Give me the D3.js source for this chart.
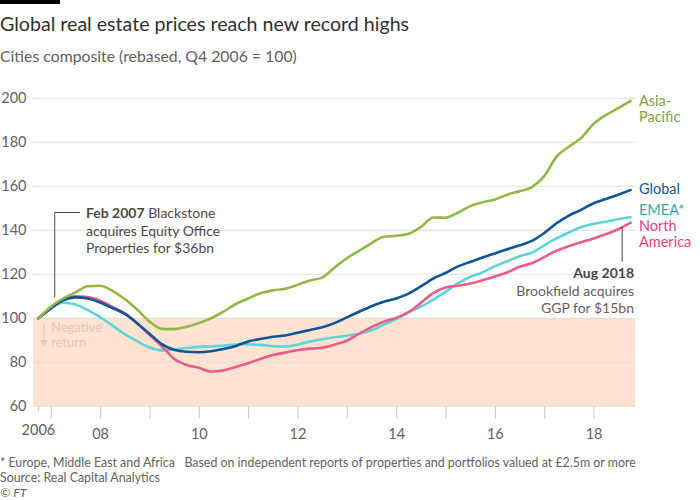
<!DOCTYPE html>
<html>
<head>
<meta charset="utf-8">
<script src="https://cdn.jsdelivr.net/npm/d3@7"></script>
<style>
  html, body { margin: 0; padding: 0; background: #ffffff; }
  svg { display: block; font-family: Lato, "Open Sans", sans-serif; }
</style>
</head>
<body>
<svg id="chart" width="700" height="500"></svg>
<script>
// ---------------- DATA ----------------
const quarters = [2006.75,2007.0,2007.25,2007.5,2007.75,2008.0,2008.25,2008.5,2008.75,2009.0,2009.25,2009.5,2009.75,
  2010.0,2010.25,2010.5,2010.75,2011.0,2011.25,2011.5,2011.75,2012.0,2012.25,2012.5,2012.75,
  2013.0,2013.25,2013.5,2013.75,2014.0,2014.25,2014.5,2014.75,2015.0,2015.25,2015.5,2015.75,
  2016.0,2016.25,2016.5,2016.75,2017.0,2017.25,2017.5,2017.75,2018.0,2018.25,2018.5,2018.75];

const asiaPacific = [100,105.3,109,111.8,114.6,114.8,112.5,108.8,104,98.5,95.2,95.1,96.1,
  97.8,100,103,106.5,109,111.4,112.7,113.4,115.2,117.2,118.5,123,
  127.3,130.7,134.2,137.1,137.5,138.4,141.5,145.8,145.7,148,151,152.8,
  154,156.2,157.8,159.6,164.6,173.5,178,182,188.3,192.4,195.5,198.8];

const global = [100,104.5,108.2,109.5,109,107.2,104.7,102,97.8,93,88.3,85.7,84.8,
  84.6,85,86,87.4,89.5,90.6,91.6,92.2,93.4,94.7,95.9,97.8,
  100.4,103,105.5,107.5,109,111.2,114.5,118,120.6,123.6,125.6,127.6,
  129.5,131.4,133.2,135.2,138.8,143.2,146.7,149.3,152.3,154.2,156.2,158.3];

const emea = [100,104.8,107.1,106.3,103.7,100.5,96.7,92.8,89.6,86.8,85.4,85.8,86.5,
  87,87.2,87.6,88.1,88.2,87.9,87.3,87.1,88,89.4,90.5,91.4,
  92.1,93,94.6,97.2,99.6,102.7,105.3,108.5,112,115.9,118.8,120.9,
  123.7,125.9,128.2,129.8,133.2,136.3,139,141.5,143,143.9,145,145.9];

const northAmerica = [100,104.5,108.4,110,109.7,108,105.2,102.2,97.8,92.5,87.3,81.6,78.8,
  77.5,75.8,76.3,77.9,79.6,81.5,83.3,84.4,85.5,86.2,86.6,88,
  89.8,93,96,98.5,100.2,102.8,107,111.4,114,114.8,115.8,117.3,
  119,120.8,123.4,125,127.8,130.7,132.8,134.6,136.3,138.2,140.5,143.5];

const seriesNames = ["EMEA", "North America", "Global", "Asia-Pacific"];
const seriesLabels = [["EMEA*"], ["North", "America"], ["Global"], ["Asia-", "Pacific"]];
const yTicks = [60, 80, 100, 120, 140, 160, 180, 200];
const xTickYears = [2007,2008,2009,2010,2011,2012,2013,2014,2015,2016,2017,2018];
const xTickLabels = {2008: "08", 2010: "10", 2012: "12", 2014: "14", 2016: "16", 2018: "18"};
const startLabel = "2006";

const title = "Global real estate prices reach new record highs";
const subtitle = "Cities composite (rebased, Q4 2006 = 100)";
const footnotes = ["* Europe, Middle East and Africa   Based on independent reports of properties and portfolios valued at £2.5m or more",
                   "Source: Real Capital Analytics"];
const annot1 = {date: 2007.08, bold: "Feb 2007", lines: [" Blackstone", "acquires Equity Office", "Properties for $36bn"]};
const annot2 = {date: 2018.58, lines: ["Aug 2018", "Brookfield acquires", "GGP for $15bn"]};

// ---------------- STYLE ----------------
const colors = {"Asia-Pacific": "#93b847", "Global": "#0f5499", "EMEA": "#5fd3dc", "North America": "#e95d8c"};
const labelColors = {"Asia-Pacific": "#7fa33a", "Global": "#0f5499", "EMEA": "#3aa6a8", "North America": "#e5457e"};
const values = {"Asia-Pacific": asiaPacific, "Global": global, "EMEA": emea, "North America": northAmerica};

const svg = d3.select("#chart");
const x = d3.scaleLinear().domain([2006.64, 2018.84]).range([33, 635]);
const y = d3.scaleLinear().domain([60, 200]).range([406.3, 98.3]);

// top bar
svg.append("rect").attr("x", 0).attr("y", 0).attr("width", 60).attr("height", 4).attr("fill", "#000");

svg.append("text").attr("x", 0).attr("y", 31).attr("font-size", 19.6).attr("fill", "#33302e").text(title);
svg.append("text").attr("x", 0).attr("y", 62).attr("font-size", 15.8).attr("fill", "#66605c").text(subtitle);

// negative area
svg.append("rect").attr("x", x(2006.64)).attr("y", y(100))
  .attr("width", x(2018.84) - x(2006.64)).attr("height", y(60) - y(100)).attr("fill", "#fde3d0");

// grid
svg.append("g").selectAll("line").data(yTicks).join("line")
  .attr("x1", x(2006.64)).attr("x2", x(2018.84))
  .attr("y1", d => y(d)).attr("y2", d => y(d))
  .attr("stroke", d => d === 100 ? "#e3d6c8" : "#e8dfd2").attr("stroke-width", 1);

// y labels
svg.append("g").selectAll("text").data(yTicks).join("text")
  .attr("x", 26.5).attr("y", d => y(d)).attr("dy", "0.35em")
  .attr("text-anchor", "end").attr("font-size", 14.5).attr("fill", "#66605c").text(d => d);

// x axis ticks
const xAxis = d3.axisBottom(x).tickValues(xTickYears).tickSize(12)
  .tickFormat(d => xTickLabels[d] || "");
const gx = svg.append("g").attr("transform", `translate(0,${y(60)})`).call(xAxis);
gx.select(".domain").remove();
gx.selectAll(".tick line").attr("stroke", "#cfc6bd");
gx.selectAll(".tick text").attr("font-size", 14.5).attr("fill", "#66605c").attr("font-family", "Lato, sans-serif").attr("dy", "1.22em");
// start tick
svg.append("line").attr("x1", x(2006.75)).attr("x2", x(2006.75)).attr("y1", y(60)).attr("y2", y(60) + 5).attr("stroke", "#cfc6bd");
svg.append("text").attr("x", x(2006.75)).attr("y", 435).attr("text-anchor", "middle")
  .attr("font-size", 14.5).attr("fill", "#66605c").text(startLabel);

// negative return
svg.append("text").attr("x", 51).attr("y", 332).attr("font-size", 13).attr("fill", "#e2c9b8").text("Negative");
svg.append("text").attr("x", 51).attr("y", 347).attr("font-size", 13).attr("fill", "#e2c9b8").text("return");
svg.append("line").attr("x1", 44).attr("x2", 44).attr("y1", 324).attr("y2", 342).attr("stroke", "#e2c9b8").attr("stroke-width", 1.2);
svg.append("path").attr("d", "M40.5,340 L47.5,340 L44,346 Z").attr("fill", "#e2c9b8");

// lines
const line = d3.line().x((d, i) => x(quarters[i])).y(d => y(d)).curve(d3.curveMonotoneX);
svg.append("g").selectAll("path").data(seriesNames).join("path")
  .attr("d", n => line(values[n]))
  .attr("fill", "none").attr("stroke", n => colors[n]).attr("stroke-width", 2.6)
  .attr("stroke-linejoin", "round").attr("stroke-linecap", "round");

// series labels
const labelY = {"Asia-Pacific": 101, "Global": 189, "EMEA": 210, "North America": 226};
seriesNames.forEach((n, k) => {
  const t = svg.append("text").attr("x", 639).attr("y", labelY[n]).attr("dy", "0.35em")
    .attr("font-size", 14.5).attr("fill", labelColors[n]);
  seriesLabels[k].forEach((s, j) => t.append("tspan").attr("x", 639).attr("dy", j === 0 ? "0.35em" : 16).text(s));
});

// annotation 1
const a1x = x(annot1.date);
svg.append("path").attr("d", `M${a1x},${y(109.5)} L${a1x},212.5 L80,212.5`).attr("fill", "none").attr("stroke", "#4d4845").attr("stroke-width", 1);
const t1 = svg.append("text").attr("x", 86).attr("y", 218).attr("font-size", 14).attr("fill", "#4d4845");
t1.append("tspan").attr("font-weight", "bold").text(annot1.bold);
t1.append("tspan").text(annot1.lines[0]);
svg.append("text").attr("x", 86).attr("y", 235.5).attr("font-size", 14).attr("fill", "#4d4845").text(annot1.lines[1]);
svg.append("text").attr("x", 86).attr("y", 253).attr("font-size", 14).attr("fill", "#4d4845").text(annot1.lines[2]);

// annotation 2
const a2x = x(annot2.date);
svg.append("line").attr("x1", a2x).attr("x2", a2x).attr("y1", y(141.5)).attr("y2", 262).attr("stroke", "#4d4845").attr("stroke-width", 1);
svg.append("text").attr("x", 634).attr("y", 277.5).attr("text-anchor", "end").attr("font-size", 14).attr("font-weight", "bold").attr("fill", "#4d4845").text(annot2.lines[0]);
svg.append("text").attr("x", 634).attr("y", 295.5).attr("text-anchor", "end").attr("font-size", 14).attr("fill", "#66605c").text(annot2.lines[1]);
svg.append("text").attr("x", 634).attr("y", 312.5).attr("text-anchor", "end").attr("font-size", 14).attr("fill", "#66605c").text(annot2.lines[2]);

// footer
svg.append("text").attr("x", 0).attr("y", 467).attr("font-size", 12.4).attr("fill", "#66605c").style("white-space", "pre").text(footnotes[0]);
svg.append("text").attr("x", 0).attr("y", 482).attr("font-size", 12.4).attr("fill", "#66605c").text(footnotes[1]);
svg.append("text").attr("x", 0).attr("y", 497).attr("font-size", 12.4).attr("font-style", "italic").attr("fill", "#66605c").text("© FT");
</script>
</body>
</html>
